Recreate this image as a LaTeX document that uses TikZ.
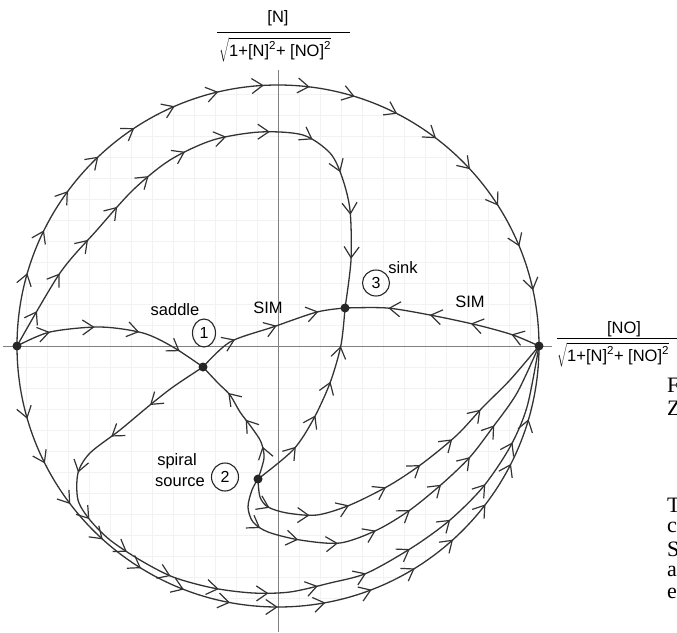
\documentclass[tikz,border=0pt]{standalone}
\usepackage{fontspec}
\setmainfont{Liberation Sans}
\newfontfamily\edgefont{Liberation Serif}
\usetikzlibrary{arrows.meta,decorations.markings,shapes.geometric}
\tikzset{
  curve/.style={line width=1.3pt, draw=black!80, line cap=round, line join=round},
  flow/.style={postaction={decorate}, decoration={markings,
      mark=between positions #1 with {\arrow[line width=1.2pt, black!80]{Straight Barb[length=11pt,width=15pt]}}}},
  axis/.style={line width=0.8pt, draw=black!50},
  gridline/.style={line width=0.5pt, draw=black!5},
  dotc/.style={fill=black!85},
  lab/.style={font=\fontsize{16.5}{19}\selectfont, inner sep=0pt},
  numc/.style={ellipse, draw=black!85, line width=1.1pt, inner sep=0pt,
      minimum width=25pt, minimum height=28pt, font=\fontsize{16}{18}\selectfont},
  edgelet/.style={anchor=west, inner sep=0pt, font=\edgefont\fontsize{22}{24}\selectfont}
}
\begin{document}
\begin{tikzpicture}[x=1pt,y=-1pt]
\useasboundingbox (0,0) rectangle (677,632);
\begin{scope}
\clip (0,0) rectangle (677,632);
% faint graph paper
\begin{scope}
\clip (278,346) circle[radius=262pt];
\foreach \k in {-13,...,13}{
  \draw[gridline] (278+21*\k,80) -- (278+21*\k,612);
  \draw[gridline] (12,346+21*\k) -- (545,346+21*\k);
}
\end{scope}

% key points
\coordinate (L) at (17,346);
\coordinate (R) at (539,346);
\coordinate (S1) at (203,367);
\coordinate (S2) at (258,479);
\coordinate (S3) at (345,308);

% axes
\coordinate (xa) at (3,346);
\coordinate (xb) at (552,346);
\coordinate (ya) at (278,70);
\coordinate (yb) at (278,632);
\draw[axis] (xa) -- (xb);
\draw[axis] (ya) -- (yb);

% outer circle
\draw[curve, flow=0.09 and 0.95 step 46pt] (L) arc[start angle=180, end angle=0, radius=261pt];
\draw[curve, flow=0.09 and 0.96 step 48pt] (L) arc[start angle=180, end angle=360, radius=261pt];

% inner upper orbit to sink
\draw[curve, flow=0.07 and 0.97 step 44pt] plot[smooth] coordinates {(L) (60,273) (97,230) (133,190) (170,160) (213,140) (260,132) (303,135) (330,153) (342,177) (350,210) (351,260) (S3)};

% left point to saddle
\draw[curve, flow=0.18 and 0.95 step 45pt] plot[smooth] coordinates {(L) (50,332) (100,327) (143,333) (173,347) (S1)};

% saddle to sink (SIM)
\draw[curve, flow=0.27 and 0.95 step 44pt] plot[smooth] coordinates {(S1) (230,342) (273,327) (317,312) (S3)};

% right point to sink (SIM)
\draw[curve, flow=0.15 and 0.95 step 42pt] plot[smooth] coordinates {(R) (513,335) (477,325) (430,315) (387,308) (S3)};

% spiral source to sink
\draw[curve, flow=0.25 and 0.95 step 37pt] plot[smooth] coordinates {(S2) (293,450) (313,420) (330,383) (341,345) (S3)};

% spiral source to saddle
\draw[curve, flow=0.25 and 0.9 step 32pt] plot[smooth] coordinates {(S2) (264,458) (261,442) (252,428) (240,412) (230,395) (218,383) (S1)};

% saddle around the bottom to right point
\draw[curve, flow=0.08 and 0.9 step 50pt] plot[smooth] coordinates {(S1) (173,387) (150,405) (120,430) (90,453) (78,473) (78,500) (90,520) (110,540) (140,560) (173,577) (213,588) (253,593) (290,592) (330,583) (367,573) (413,547) (450,520) (483,487) (510,447) (527,407) (R)};

% spiral source to right point (two orbits)
\draw[curve, flow=0.09 and 0.85 step 41pt] plot[smooth] coordinates {(S2) (260,497) (268,507) (287,513) (317,515) (350,505) (390,485) (423,463) (457,435) (483,407) (510,380) (R)};
\draw[curve, flow=0.13 and 0.85 step 40pt] plot[smooth] coordinates {(S2) (252,490) (248,507) (253,522) (268,532) (300,540) (340,543) (377,530) (410,510) (443,483) (470,457) (493,427) (517,393) (R)};

% equilibria
\fill[dotc] (L) circle[radius=4.5pt];
\fill[dotc] (R) circle[radius=4.5pt];
\fill[dotc] (S1) circle[radius=4.5pt];
\fill[dotc] (S2) circle[radius=4.5pt];
\fill[dotc] (S3) circle[radius=4.5pt];

% labels
\node[lab] (saddle) at (175,310) {saddle};
\node[numc, minimum width=23pt] (n1) at (204,333) {1};
\node[lab] (sim1) at (268,308) {SIM};
\node[lab] (sink) at (403,268) {sink};
\node[numc, minimum width=27pt, minimum height=26pt] (n3) at (376,283) {3};
\node[lab] (sim2) at (470,302) {SIM};
\node[lab] (spiral) at (177,461) {spiral};
\node[lab] (source) at (180,482) {source};
\node[numc, minimum width=27pt] (n2) at (225,477) {2};

% axis labels
\node[lab] (ynum) at (278,18) {[N]};
\coordinate (yb1) at (217,32);
\coordinate (yb2) at (350,32);
\draw[line width=0.8pt] (yb1) -- (yb2);
\node[lab, anchor=west] (yden) at (219,50) {$\sqrt{\mbox{1+[N]\textsuperscript{2}+ [NO]\textsuperscript{2}}}$};

\node[lab] (xnum) at (624,329) {[NO]};
\coordinate (xb1) at (557,338);
\coordinate (xb2) at (690,338);
\draw[line width=0.8pt] (xb1) -- (xb2);
\node[lab, anchor=west] (xden) at (557,355) {$\sqrt{\mbox{1+[N]\textsuperscript{2}+ [NO]\textsuperscript{2}}}$};

% text cut off at the right edge
\node[edgelet] (e1) at (667,385) {F};
\node[edgelet] (e2) at (667,408) {Z};
\node[edgelet] (e3) at (667,505) {T};
\node[edgelet] (e4) at (667,527) {c};
\node[edgelet] (e5) at (667,549) {S};
\node[edgelet] (e6) at (667,571) {a};
\node[edgelet] (e7) at (667,593) {e};
\end{scope}
\end{tikzpicture}
\end{document}
